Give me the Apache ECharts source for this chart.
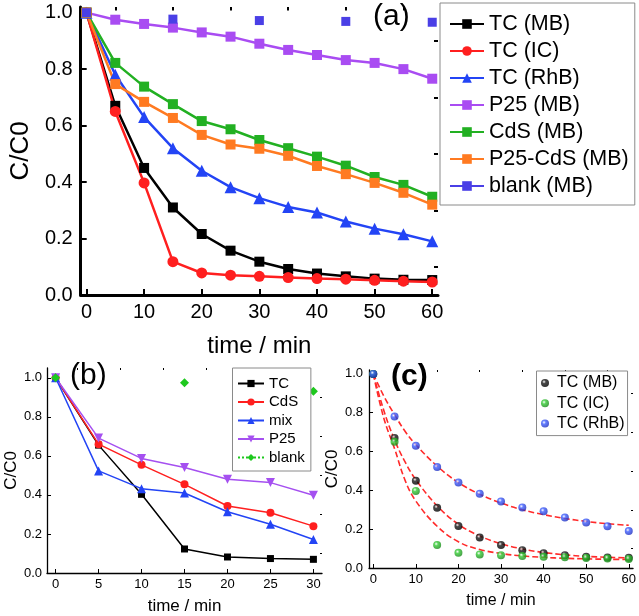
<!DOCTYPE html>
<html>
<head>
<meta charset="utf-8">
<script src="https://cdn.jsdelivr.net/npm/echarts@6/dist/echarts.min.js"></script>
<style>html,body{margin:0;padding:0;background:#fff}#c{width:639px;height:616px}</style>
</head>
<body>
<div id="c"></div>
<script>
// ---------- data: panel (a) ----------
var timeA = [0, 5, 10, 15, 20, 25, 30, 35, 40, 45, 50, 55, 60];
var tcMB = [1.0, 0.67, 0.45, 0.31, 0.216, 0.157, 0.118, 0.092, 0.076, 0.066, 0.058, 0.054, 0.053];
var tcIC = [1.0, 0.65, 0.397, 0.118, 0.078, 0.07, 0.066, 0.062, 0.058, 0.056, 0.052, 0.049, 0.046];
var tcRhB = [1.0, 0.78, 0.63, 0.52, 0.44, 0.382, 0.343, 0.312, 0.292, 0.26, 0.235, 0.215, 0.19];
var p25MB = [1.0, 0.975, 0.96, 0.947, 0.93, 0.915, 0.89, 0.868, 0.85, 0.832, 0.822, 0.8, 0.766];
var cdsMB = [1.0, 0.822, 0.738, 0.676, 0.616, 0.587, 0.549, 0.52, 0.49, 0.458, 0.418, 0.39, 0.348];
var p25CdsMB = [1.0, 0.747, 0.684, 0.627, 0.567, 0.533, 0.518, 0.493, 0.457, 0.428, 0.397, 0.362, 0.32];
var blankTimeA = [0, 15, 30, 45, 60];
var blankMB = [1.0, 0.977, 0.972, 0.969, 0.966];
// ---------- data: panel (b) ----------
var timeB = [0, 5, 10, 15, 20, 25, 30];
var tcB = [1.0, 0.655, 0.403, 0.123, 0.082, 0.074, 0.07];
var cdsB = [1.0, 0.66, 0.554, 0.454, 0.343, 0.309, 0.24];
var mixB = [1.0, 0.523, 0.432, 0.41, 0.314, 0.25, 0.172];
var p25B = [1.0, 0.691, 0.587, 0.54, 0.48, 0.463, 0.398];
var blankTimeB = [0, 15, 30];
var blankB = [1.0, 0.974, 0.931];
// ---------- data: panel (c) fitted curves ----------
var fitTime = [0, 2.5, 5, 7.5, 10, 15, 20, 25, 30, 35, 40, 45, 50, 55, 60];
var fitMB = [1.0, 0.81, 0.66, 0.545, 0.455, 0.32, 0.225, 0.165, 0.125, 0.098, 0.08, 0.068, 0.06, 0.055, 0.052];
var fitIC = [1.0, 0.77, 0.615, 0.45, 0.345, 0.215, 0.135, 0.095, 0.075, 0.062, 0.055, 0.05, 0.047, 0.045, 0.044];
var fitRhB = [1.0, 0.885, 0.79, 0.703, 0.635, 0.525, 0.44, 0.38, 0.335, 0.3, 0.275, 0.255, 0.24, 0.228, 0.22];
// ---------- ticks ----------
var ticksA = [0, 10, 20, 30, 40, 50, 60];
var minorA = [5, 15, 25, 35, 45, 55];
var ticksB = [0, 5, 10, 15, 20, 25, 30];
var minorB = [2.5, 7.5, 12.5, 17.5, 22.5, 27.5];
var ticksY = [0, 0.2, 0.4, 0.6, 0.8, 1.0];
var minorY = [0.1, 0.3, 0.5, 0.7, 0.9];

var FONT = "'Liberation Sans', Arial, sans-serif";
function pairs(xs, ys) { return xs.map(function (x, i) { return [x, ys[i]]; }); }

function axisPair(dim, grid, min, max, major, minor, o) {
  var isX = dim === 'x';
  var main = {
    type: 'value', gridIndex: grid, min: min, max: max, splitLine: { show: false },
    axisLine: { show: true, onZero: false, lineStyle: { color: '#000', width: o.lw } },
    axisTick: { show: true, inside: true, length: o.tl, customValues: major, lineStyle: { color: '#000', width: o.tw } },
    axisLabel: { show: true, customValues: major, margin: o.margin, fontSize: o.fs, color: '#000', fontFamily: FONT,
      formatter: function (v) { return isX ? String(Math.round(v)) : Number(v).toFixed(1); } },
    name: o.name, nameLocation: 'middle', nameGap: o.nameGap,
    nameTextStyle: { fontSize: o.nfs, color: '#000', fontFamily: FONT }
  };
  if (!isX) main.nameRotate = 90;
  var mn = {
    type: 'value', gridIndex: grid, min: min, max: max, splitLine: { show: false },
    axisLine: { show: false, onZero: false },
    axisTick: { show: true, inside: true, length: o.ml, customValues: minor, lineStyle: { color: '#000', width: o.tw } },
    axisLabel: { show: false }
  };
  return [main, mn];
}

var xAxes = [].concat(
  axisPair('x', 0, -1, 61, ticksA, minorA, { lw: 3, tw: 2, tl: 6, ml: 3.5, margin: 7, fs: 20, name: 'time / min', nameGap: 39, nfs: 24 }),
  axisPair('x', 1, -1, 31, ticksB, minorB, { lw: 1.3, tw: 1, tl: 4, ml: 2, margin: 5, fs: 13, name: 'time / min', nameGap: 25, nfs: 17 }),
  axisPair('x', 2, -1, 61, ticksA, minorA, { lw: 1.3, tw: 1, tl: 4, ml: 2, margin: 5, fs: 13, name: 'time / min', nameGap: 25, nfs: 16 })
);
var yAxes = [].concat(
  axisPair('y', 0, 0, 1.02, ticksY, minorY, { lw: 3, tw: 2, tl: 6, ml: 4, margin: 8, fs: 20, name: 'C/C0', nameGap: 36, nfs: 26 }),
  axisPair('y', 1, 0, 1.05, ticksY, minorY, { lw: 1.3, tw: 1, tl: 4, ml: 2, margin: 5, fs: 13, name: 'C/C0', nameGap: 27, nfs: 17 }),
  axisPair('y', 2, 0, 1.02, ticksY, minorY, { lw: 1.3, tw: 1, tl: 4, ml: 2, margin: 6, fs: 13, name: 'C/C0', nameGap: 25, nfs: 17 })
);

function lineSeries(name, xi, xs, ys, color, symbol, size, lw, extra) {
  var s = {
    name: name, type: 'line', xAxisIndex: xi, yAxisIndex: xi, data: pairs(xs, ys),
    symbol: symbol, symbolSize: size, showAllSymbol: true,
    lineStyle: { color: color, width: lw }, itemStyle: { color: color, borderWidth: 0 },
    z: 3
  };
  if (extra) for (var k in extra) s[k] = extra[k];
  return s;
}
function ball(base, dark) {
  return { type: 'radial', x: 0.38, y: 0.35, r: 0.65,
    colorStops: [{ offset: 0, color: '#ffffff' }, { offset: 0.35, color: base }, { offset: 1, color: dark }] };
}

var series = [
  // panel (a)
  lineSeries('TC (MB)', 0, timeA, tcMB, '#000000', 'rect', 10, 2.5),
  lineSeries('TC (IC)', 0, timeA, tcIC, '#ff1f1f', 'circle', 11, 2.5),
  lineSeries('TC (RhB)', 0, timeA, tcRhB, '#2344f5', 'triangle', 12, 2.5),
  lineSeries('P25 (MB)', 0, timeA, p25MB, '#a94cf2', 'rect', 10, 2.5),
  lineSeries('CdS (MB)', 0, timeA, cdsMB, '#22b022', 'rect', 10, 2.5),
  lineSeries('P25-CdS (MB)', 0, timeA, p25CdsMB, '#ff7a21', 'rect', 10, 2.5),
  lineSeries('blank (MB)', 0, blankTimeA, blankMB, '#4a3fe6', 'rect', 9, 2.5, { lineStyle: { color: '#4a3fe6', width: 2.5, opacity: 0 } }),
  // panel (b)
  lineSeries('TC', 2, timeB, tcB, '#000000', 'rect', 7, 1.5),
  lineSeries('CdS', 2, timeB, cdsB, '#ff1f1f', 'circle', 8, 1.5),
  lineSeries('mix', 2, timeB, mixB, '#2344f5', 'triangle', 9, 1.5),
  lineSeries('P25', 2, timeB, p25B, '#a550f0', 'triangle', 9, 1.5, { symbolRotate: 180 }),
  lineSeries('blank', 2, blankTimeB, blankB, '#1ec81e', 'diamond', 9, 1.5, { lineStyle: { color: '#1ec81e', width: 1.5, opacity: 0, type: 'dotted' } }),
  // panel (c) fits
  { name: 'fitMB', type: 'line', xAxisIndex: 4, yAxisIndex: 4, data: pairs(fitTime, fitMB), smooth: 0.4, symbol: 'none',
    lineStyle: { color: '#ff2a2a', width: 1.6, type: [6, 3] }, z: 2 },
  { name: 'fitIC', type: 'line', xAxisIndex: 4, yAxisIndex: 4, data: pairs(fitTime, fitIC), smooth: 0.4, symbol: 'none',
    lineStyle: { color: '#ff2a2a', width: 1.6, type: [6, 3] }, z: 2 },
  { name: 'fitRhB', type: 'line', xAxisIndex: 4, yAxisIndex: 4, data: pairs(fitTime, fitRhB), smooth: 0.4, symbol: 'none',
    lineStyle: { color: '#ff2a2a', width: 1.6, type: [6, 3] }, z: 2 },
  // panel (c) points
  { name: 'c:TC (MB)', type: 'scatter', xAxisIndex: 4, yAxisIndex: 4, data: pairs(timeA, tcMB), symbolSize: 8,
    itemStyle: { color: ball('#1a1a1a', '#000000') }, z: 4 },
  { name: 'c:TC (IC)', type: 'scatter', xAxisIndex: 4, yAxisIndex: 4, data: pairs(timeA, tcIC), symbolSize: 8,
    itemStyle: { color: ball('#33cc33', '#1a8a1a') }, z: 4 },
  { name: 'c:TC (RhB)', type: 'scatter', xAxisIndex: 4, yAxisIndex: 4, data: pairs(timeA, tcRhB), symbolSize: 8,
    itemStyle: { color: ball('#3f5fff', '#1f30c0') }, z: 4 }
];

var legendText = { color: '#000', fontFamily: FONT };
var option = {
  animation: false,
  backgroundColor: '#ffffff',
  grid: [
    { left: 66, top: 7, width: 372, height: 288 },
    { left: 47, top: 368, width: 275, height: 205.5 },
    { left: 369, top: 370, width: 266, height: 198 }
  ],
  xAxis: xAxes,
  yAxis: yAxes,
  legend: [
    { orient: 'vertical', left: 440, top: 3, padding: [10, 6, 8, 9], itemGap: 5, itemWidth: 34, itemHeight: 12,
      borderColor: '#8a8a8a', borderWidth: 1, backgroundColor: '#fff',
      textStyle: Object.assign({ fontSize: 21.5, lineHeight: 21.5 }, legendText),
      data: ['TC (MB)', 'TC (IC)', 'TC (RhB)', 'P25 (MB)', 'CdS (MB)', 'P25-CdS (MB)', { name: 'blank (MB)', lineStyle: { opacity: 1 } }] },
    { orient: 'vertical', left: 232.5, top: 368, padding: [8, 6, 6, 4.5], itemGap: 3.5, itemWidth: 26, itemHeight: 9,
      borderColor: '#8a8a8a', borderWidth: 1, backgroundColor: '#fff',
      textStyle: Object.assign({ fontSize: 15, lineHeight: 15 }, legendText),
      data: ['TC', 'CdS', 'mix', 'P25', { name: 'blank', lineStyle: { opacity: 1 } }] },
    { orient: 'vertical', left: 536.5, top: 371, padding: [4, 3, 4, 4.5], itemGap: 4.3, itemWidth: 14, itemHeight: 8,
      borderColor: '#8a8a8a', borderWidth: 1, backgroundColor: '#fff',
      textStyle: Object.assign({ fontSize: 16, lineHeight: 16 }, legendText),
      formatter: function (n) { return n.replace(/^c:/, ''); },
      data: ['c:TC (MB)', 'c:TC (IC)', 'c:TC (RhB)'] }
  ],
  graphic: [
    { type: 'text', left: 373, top: 2, style: { text: '(a)', fontSize: 30, fill: '#000', fontFamily: FONT } },
    { type: 'text', left: 70, top: 361, style: { text: '(b)', fontSize: 30, fill: '#000', fontFamily: FONT } },
    { type: 'text', left: 391, top: 362, style: { text: '(c)', fontSize: 30, fontWeight: 'bold', fill: '#000', fontFamily: FONT } }
  ],
  series: series
};
var chart = echarts.init(document.getElementById('c'), null, { renderer: 'canvas' });
chart.setOption(option);
</script>
</body>
</html>
